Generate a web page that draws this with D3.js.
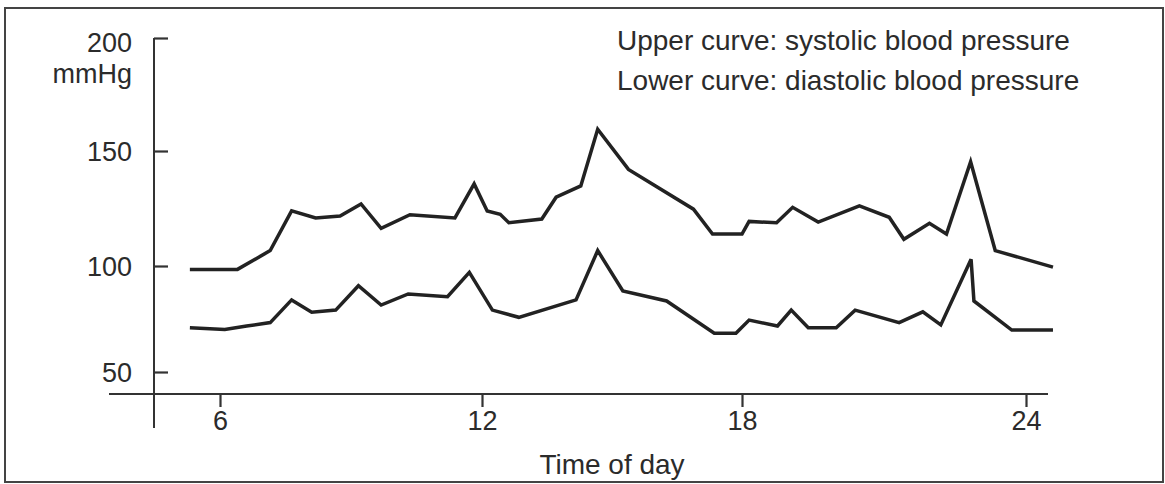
<!DOCTYPE html>
<html>
<head>
<meta charset="utf-8">
<script src="https://cdn.jsdelivr.net/npm/d3@7"></script>
<style>
  html, body { margin: 0; padding: 0; background: #fff; }
  svg { display: block; font-family: "Liberation Sans", Arial, Helvetica, sans-serif; }
</style>
</head>
<body>
<svg id="chart" width="1165" height="484"></svg>
<script>
// ---- data (time of day in hours, pressure in mmHg) ----
const systolicHours = [5.31, 6.40, 7.15, 7.64, 8.19, 8.75, 9.23, 9.69, 10.35, 11.38, 11.82, 12.12, 12.42, 12.62, 13.38, 13.71, 14.28, 14.67, 15.38, 16.88, 17.32, 18.0, 18.15, 18.73, 19.07, 19.61, 20.48, 21.11, 21.42, 21.96, 22.32, 22.83, 23.35, 24.57];
const systolicValues = [98.4, 98.4, 106.7, 124.0, 120.9, 121.7, 127.0, 116.4, 122.3, 120.9, 135.7, 123.9, 122.5, 118.8, 120.4, 129.9, 134.8, 159.6, 142.0, 124.7, 113.9, 113.9, 119.4, 118.8, 125.5, 119.1, 126.1, 121.2, 111.6, 118.6, 113.9, 145.3, 106.7, 99.5];

const diastolicHours = [5.31, 6.11, 6.61, 7.15, 7.64, 8.10, 8.65, 9.17, 9.69, 10.31, 11.21, 11.71, 12.24, 12.85, 14.17, 14.67, 15.25, 16.26, 17.36, 17.86, 18.15, 18.75, 19.04, 19.40, 19.99, 20.39, 21.32, 21.82, 22.20, 22.84, 22.90, 23.70, 24.57];
const diastolicValues = [70.9, 70.1, 71.7, 73.3, 84.0, 78.2, 79.2, 90.7, 81.6, 86.8, 85.5, 97.0, 79.2, 75.8, 84.0, 106.7, 88.2, 83.5, 68.3, 68.3, 74.5, 71.7, 79.2, 70.9, 70.9, 79.2, 73.3, 78.4, 72.2, 102.9, 83.5, 69.8, 69.8];

const xTicks = [6, 12, 18, 24];
const yTicks = [50, 100, 150, 200];
const yUnit = "mmHg";
const xTitle = "Time of day";
const legendLines = ["Upper curve: systolic blood pressure", "Lower curve: diastolic blood pressure"];

// ---- layout ----
const svg = d3.select("#chart");
const axisColor = "#333";
const textColor = "#2b2b2b";
const lineColor = "#222";

const x = d3.scaleLinear().domain(xTicks).range([220, 482, 742, 1026]);
const y = d3.scaleLinear().domain(yTicks).range([372, 266, 151, 38]);

const axisX = 154, axisY = 394;

// outer frame
svg.append("rect")
  .attr("x", 5).attr("y", 8).attr("width", 1158).attr("height", 474)
  .attr("fill", "none").attr("stroke", "#444").attr("stroke-width", 2);

// axis lines
svg.append("line").attr("x1", axisX).attr("x2", axisX).attr("y1", 38).attr("y2", 428)
  .attr("stroke", axisColor).attr("stroke-width", 2);
svg.append("line").attr("x1", 109).attr("x2", 1048).attr("y1", axisY).attr("y2", axisY)
  .attr("stroke", axisColor).attr("stroke-width", 2);

// y axis ticks (inward) and labels
const yAxis = d3.axisLeft(y).tickValues(yTicks).tickSizeInner(-14).tickSizeOuter(0).tickPadding(22);
const gy = svg.append("g").attr("transform", `translate(${axisX},0)`).call(yAxis);
gy.select(".domain").remove();
gy.selectAll(".tick line").attr("stroke", axisColor).attr("stroke-width", 2.2);
gy.selectAll(".tick text").attr("fill", textColor).style("font-size", "27px")
  .attr("dy", d => d === 200 ? "0.5em" : "0.34em");

svg.append("text").attr("x", axisX - 22).attr("y", 83).attr("text-anchor", "end")
  .attr("fill", textColor).style("font-size", "27px").text(yUnit);

// x axis ticks and labels
const xAxis = d3.axisBottom(x).tickValues(xTicks).tickSizeInner(13).tickSizeOuter(0).tickPadding(4).tickFormat(d3.format("d"));
const gx = svg.append("g").attr("transform", `translate(0,${axisY})`).call(xAxis);
gx.select(".domain").remove();
gx.selectAll(".tick line").attr("stroke", axisColor).attr("stroke-width", 2.2);
gx.selectAll(".tick text").attr("fill", textColor).style("font-size", "27px");

svg.append("text").attr("x", 612).attr("y", 474).attr("text-anchor", "middle")
  .attr("fill", textColor).style("font-size", "28px").text(xTitle);

// legend text
legendLines.forEach((t, i) => {
  svg.append("text").attr("x", 617).attr("y", 50 + i * 40)
    .attr("fill", textColor).style("font-size", "28px").text(t);
});

// curves
const line = d3.line().x(d => x(d[0])).y(d => y(d[1]));
const systolic = systolicHours.map((h, i) => [h, systolicValues[i]]);
const diastolic = diastolicHours.map((h, i) => [h, diastolicValues[i]]);

[systolic, diastolic].forEach(series => {
  svg.append("path").datum(series).attr("d", line)
    .attr("fill", "none").attr("stroke", lineColor).attr("stroke-width", 3.5)
    .attr("stroke-linejoin", "miter").attr("stroke-miterlimit", 4);
});
</script>
</body>
</html>
